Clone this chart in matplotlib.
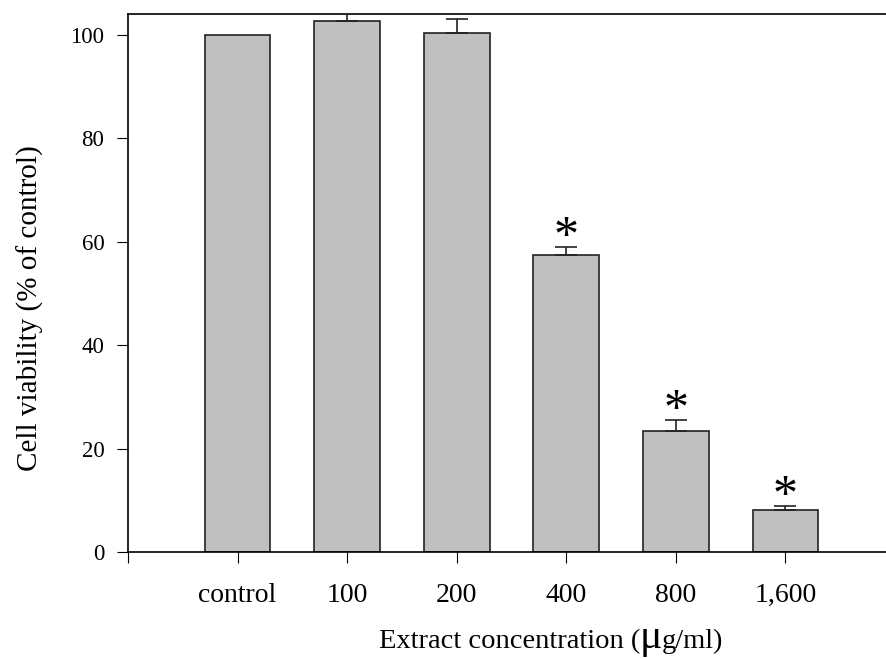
import matplotlib
matplotlib.use("Agg")
import matplotlib.pyplot as plt

labels = ["control", "100", "200", "400", "800", "1,600"]
viability = [100.0, 102.6, 100.3, 57.4, 23.3, 8.2]
err_up = [0.0, 2.5, 2.8, 1.5, 2.3, 0.6]
signif = [False, False, False, True, True, True]

plt.rcParams["font.family"] = ["Liberation Serif", "DejaVu Serif"]

W, H = 886, 659
fig = plt.figure(figsize=(W / 100, H / 100), dpi=100)
ax = fig.add_axes([128 / W, 107 / H, 767 / W, 538 / H])

x = list(range(1, len(labels) + 1))
ax.bar(x, viability, width=0.6, color="#c0c0c0", edgecolor="#222222", linewidth=1.2, zorder=2)

# only upward error bars, skip the control (no error)
ex = [xi for xi, e in zip(x, err_up) if e > 0]
ev = [v for v, e in zip(viability, err_up) if e > 0]
ee = [e for e in err_up if e > 0]
ax.errorbar(ex, ev, yerr=[[0] * len(ee), ee], fmt="none", ecolor="#222222",
            elinewidth=1.2, capsize=8, capthick=1.2, zorder=3)

for xi, v, e, s in zip(x, viability, err_up, signif):
    if s:
        ax.text(xi, v + e - 2.7, "*", ha="center", va="bottom", fontsize=36)

ax.set_xlim(0, 7)
ax.set_ylim(0, 104)
ax.set_xticks(range(0, 8))
ax.set_xticklabels([""] + labels + [""], fontsize=20)
ax.set_yticks([0, 20, 40, 60, 80, 100])
ax.tick_params(axis="y", labelsize=16.5, length=8, direction="out", pad=9)
ax.tick_params(axis="x", length=8, direction="out", pad=14)
for sp in ax.spines.values():
    sp.set_linewidth(1.2)

# axis titles (the mu is drawn larger, as in the original)
fig.text(30 / W, 1 - 308 / H, "Cell viability (% of control)", rotation=90,
         ha="center", va="center", fontsize=21)
yb = 1 - 648 / H
fig.text(640 / W, yb, "Extract concentration (", ha="right", va="baseline", fontsize=20.5)
fig.text(651 / W, yb, "μ", ha="center", va="baseline", fontsize=30)
fig.text(662 / W, yb, "g/ml)", ha="left", va="baseline", fontsize=20.5)

fig.savefig("out.png", dpi=100)
